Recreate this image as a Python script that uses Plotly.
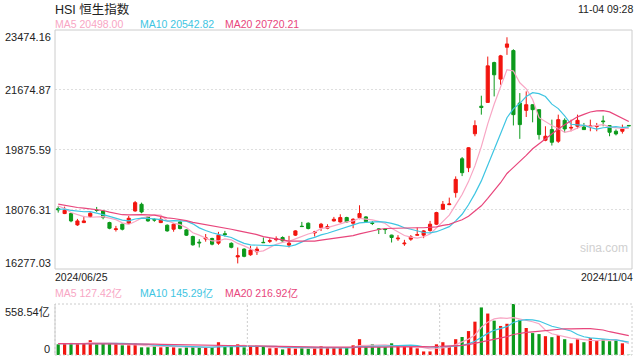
import pandas as pd
import plotly.graph_objects as go

# ---------------- data ----------------
holidays = ["2024-07-01", "2024-09-06", "2024-09-18", "2024-10-01", "2024-10-11"]
dates = [d.strftime("%Y-%m-%d") for d in pd.bdate_range("2024-06-25", "2024-11-04")
         if d.strftime("%Y-%m-%d") not in holidays]

opens = [18095, 17947, 17947, 17605, 17675, 17856, 18055, 18025, 17675, 17465,
         17625, 17655, 18025, 18225, 17845, 17770, 17675, 17595, 17475, 17695,
         17455, 17255, 17085, 17180, 17196, 17055, 17340, 17050, 16640, 16876,
         16706, 16796, 17080, 17110, 17160, 17226, 16996, 17297, 17565, 17656,
         17365, 17525, 17506, 17725, 17695, 17826, 17656, 17826, 17845, 17665,
         17485, 17480, 17297, 17185, 17035, 17176, 17295, 17297, 17435, 17626,
         18076, 18215, 18577, 19596, 19327, 20350, 21180, 21294, 22493, 21995,
         22955, 22854, 21275, 21054, 21225, 21075, 20155, 20475, 20125, 20755,
         20520, 20575, 20555, 20565, 20570, 20735, 20595, 20425, 20425, 20600]
highs = [18175, 18155, 17960, 17785, 17875, 17986, 18146, 18040, 17700, 17575,
         17650, 17875, 18325, 18275, 17870, 17800, 17845, 17620, 17660, 17720,
         17480, 17280, 17175, 17330, 17220, 17395, 17425, 17080, 16925, 16900,
         16975, 16950, 17225, 17200, 17260, 17260, 17275, 17445, 17695, 17680,
         17425, 17665, 17625, 17845, 17925, 17850, 17805, 18196, 17870, 17720,
         17500, 17500, 17310, 17297, 17155, 17300, 17525, 17450, 17725, 18000,
         18325, 18426, 19066, 19650, 19945, 20754, 21495, 22674, 22520, 22725,
         23255, 22894, 21575, 21625, 21240, 21090, 20575, 20775, 20925, 20815,
         20775, 20925, 20675, 20775, 20675, 20895, 20600, 20480, 20625, 20610]
lows = [17975, 17930, 17685, 17575, 17660, 17826, 17996, 17775, 17475, 17405,
        17440, 17630, 18000, 17955, 17700, 17700, 17660, 17400, 17400, 17470,
        17270, 16980, 16925, 17100, 16990, 17005, 17255, 16900, 16445, 16630,
        16675, 16700, 17060, 17060, 17110, 17100, 16925, 17270, 17545, 17470,
        17255, 17420, 17475, 17705, 17675, 17670, 17505, 17775, 17680, 17600,
        17330, 17330, 17075, 17125, 16975, 17125, 17290, 17205, 17400, 17600,
        18060, 18200, 18427, 19075, 19195, 20275, 20925, 21294, 21474, 21825,
        22725, 20600, 20196, 20855, 20694, 20175, 20125, 19995, 20075, 20375,
        20425, 20505, 20475, 20425, 20425, 20575, 20275, 20300, 20355, 20580]
closes = [18060, 18046, 17725, 17725, 17725, 17956, 18040, 17826, 17505, 17485,
          17475, 17805, 18275, 17995, 17725, 17750, 17775, 17425, 17625, 17495,
          17295, 17005, 17065, 17215, 17025, 17295, 17315, 16930, 16675, 16658,
          16846, 16876, 17070, 17130, 17185, 17125, 17056, 17425, 17555, 17496,
          17390, 17626, 17557, 17775, 17826, 17695, 17775, 17946, 17705, 17650,
          17470, 17465, 17226, 17205, 17055, 17245, 17310, 17425, 17626, 17976,
          18226, 18235, 18976, 19177, 19928, 20595, 21140, 22394, 22125, 22695,
          23054, 20925, 20625, 21225, 21075, 20325, 20275, 20094, 20775, 20495,
          20540, 20755, 20475, 20585, 20590, 20715, 20395, 20345, 20495, 20590]
volumes = [117, 125, 132, 125, 132, 162, 117, 125, 132, 117,
           106, 106, 125, 84, 84, 95, 84, 95, 84, 73,
           84, 88, 84, 84, 84, 140, 88, 95, 117, 84,
           88, 88, 88, 73, 77, 61, 80, 70, 80, 70,
           77, 95, 77, 77, 80, 80, 106, 173, 88, 117,
           88, 88, 128, 102, 95, 88, 73, 39, 39, 117,
           140, 98, 173, 197, 262, 365, 521, 454, 376, 318,
           342, 558.54, 385, 296, 240, 229, 206, 195, 218, 173,
           128, 173, 140, 184, 162, 173, 151, 162, 128, 3]
# estimated sessions before 2024/06/25 (only used to seed the moving averages)
prior_closes = [18821, 18477, 18231, 18079, 18403, 18444, 18425, 18476, 18367, 18176,
                17937, 18112, 17942, 17936, 17915, 18430, 18335, 18028, 18027]
prior_volumes = [128, 135, 122, 140, 118, 125, 132, 110, 120, 128,
                 115, 124, 130, 119, 126, 133, 121, 127, 118]

y_ticks = [16277.03, 18076.31, 19875.59, 21674.87, 23474.16]
y_tick_text = ["16277.03", "18076.31", "19875.59", "21674.87", "23474.16"]
vol_max = 558.54
first_label, last_label = "2024/06/25", "2024/11/04"
title_text = "HSI 恒生指数"
time_text = "11-04 09:28"
ma_labels = ["MA5 20498.00", "MA10 20542.82", "MA20 20720.21"]
vol_ma_labels = ["MA5 127.42亿", "MA10 145.29亿", "MA20 216.92亿"]

# ---------------- styles ----------------
RED, GREEN = "#f2150f", "#0c9a1c"
MA_COLORS = ["#f8a6c4", "#3ec5e2", "#e8467c"]
FONT = "Arial, 'Liberation Sans', 'Noto Sans CJK SC', sans-serif"
TXT = "#222222"
W, H = 640, 360
L, R, T, B = 55, 8, 30, 5
PW, PH = W - L - R, H - T - B


def px_x(px):
    return (px - L) / PW


def px_y(py):
    return (H - B - py) / PH


main_dom = [px_y(269), 1.0]
vol_dom = [0.0, px_y(304)]

n = len(closes)
xs = list(range(n))
c_all = pd.Series(prior_closes + closes)
v_all = pd.Series(prior_volumes + volumes)
colors = [RED if c >= o else GREEN for o, c in zip(opens, closes)]

fig = go.Figure()
fig.add_trace(go.Candlestick(
    x=xs, open=opens, high=highs, low=lows, close=closes,
    increasing=dict(line=dict(color=RED, width=1), fillcolor=RED),
    decreasing=dict(line=dict(color=GREEN, width=1), fillcolor=GREEN),
    whiskerwidth=0, xaxis="x", yaxis="y", hoverinfo="skip", showlegend=False))
for p, col in zip([5, 10, 20], MA_COLORS):
    ma = c_all.rolling(p).mean().iloc[-n:].tolist()
    fig.add_trace(go.Scatter(x=xs, y=ma, mode="lines", line=dict(color=col, width=1.2),
                             xaxis="x", yaxis="y", hoverinfo="skip", showlegend=False))

fig.add_trace(go.Bar(x=xs, y=volumes, marker=dict(color=colors, line=dict(width=0)),
                     width=0.5, xaxis="x2", yaxis="y2", hoverinfo="skip", showlegend=False))
for p, col in zip([5, 10, 20], MA_COLORS):
    ma = v_all.rolling(p).mean().iloc[-n:].tolist()
    fig.add_trace(go.Scatter(x=xs, y=ma, mode="lines", line=dict(color=col, width=1.2),
                             xaxis="x2", yaxis="y2", hoverinfo="skip", showlegend=False))

xr = [-0.5, n - 0.5]
fig.update_layout(
    width=W, height=H, margin=dict(l=L, r=R, t=T, b=B),
    paper_bgcolor="white", plot_bgcolor="white",
    font=dict(family=FONT, size=11, color=TXT),
    boxgap=0.3, hovermode=False,
    xaxis=dict(domain=[0, 1], range=xr, anchor="y", showticklabels=False, showgrid=False,
               zeroline=False, rangeslider=dict(visible=False), fixedrange=True),
    xaxis2=dict(domain=[0, 1], range=xr, anchor="y2", showticklabels=False, showgrid=False,
                zeroline=False, matches="x"),
    yaxis=dict(domain=main_dom, range=[y_ticks[0], y_ticks[-1]], tickvals=y_ticks[1:-1],
               showticklabels=False, showgrid=True, gridcolor="#dedede", griddash="2px,2px",
               gridwidth=1, zeroline=False, fixedrange=True),
    yaxis2=dict(domain=vol_dom, range=[0, vol_max], showticklabels=False, showgrid=False,
                zeroline=False, fixedrange=True),
)

shapes = []
# main panel frame
shapes.append(dict(type="rect", xref="paper", yref="paper", x0=0, x1=1,
                   y0=main_dom[0], y1=main_dom[1], line=dict(color="#cccccc", width=1)))
# volume panel frame (dotted) + left solid axis
shapes.append(dict(type="rect", xref="paper", yref="paper", x0=0, x1=1,
                   y0=vol_dom[0], y1=vol_dom[1], line=dict(color="#cccccc", width=1, dash="2px,2px")))
shapes.append(dict(type="line", xref="paper", yref="paper", x0=0, x1=0,
                   y0=vol_dom[0], y1=vol_dom[1], line=dict(color="#cccccc", width=1)))
for fx in (1 / 3, 2 / 3):
    shapes.append(dict(type="line", xref="paper", yref="paper", x0=fx, x1=fx,
                       y0=vol_dom[0], y1=vol_dom[1], line=dict(color="#cccccc", width=1, dash="2px,2px")))
fig.update_layout(shapes=shapes)

ann = []


def text(px, py, s, anchor="left", size=10.5, color=TXT):
    ann.append(dict(xref="paper", yref="paper", x=px_x(px), y=px_y(py), text=s,
                    showarrow=False, xanchor=anchor, yanchor="middle",
                    font=dict(size=size, color=color, family=FONT), borderpad=0))


text(54, 9, title_text, size=12.5)
text(634, 9, time_text, anchor="right")
for xpos, s, col in zip([54, 139, 224], ma_labels, MA_COLORS):
    text(xpos, 24, s, color=col)
# y tick labels
tick_px = [262.5, 210, 149.5, 90, 37]
for v, s, py in zip(y_ticks, y_tick_text, tick_px):
    text(52, py, s, anchor="right", size=11)
text(54, 277, first_label)
text(634, 277, last_label, anchor="right")
for xpos, s, col in zip([54, 139, 224], vol_ma_labels, MA_COLORS):
    text(xpos, 293, s, color=col)
text(51, 311.5, f"{vol_max:.2f}亿", anchor="right", size=11)
text(51, 348.5, "0", anchor="right", size=11)
text(604, 248, "sina.com", anchor="center", size=12, color="#d0d0d0")
fig.update_layout(annotations=ann)

fig.write_html("out.html", config={"displayModeBar": False, "staticPlot": True},
               post_script="document.body.style.margin='0';")
